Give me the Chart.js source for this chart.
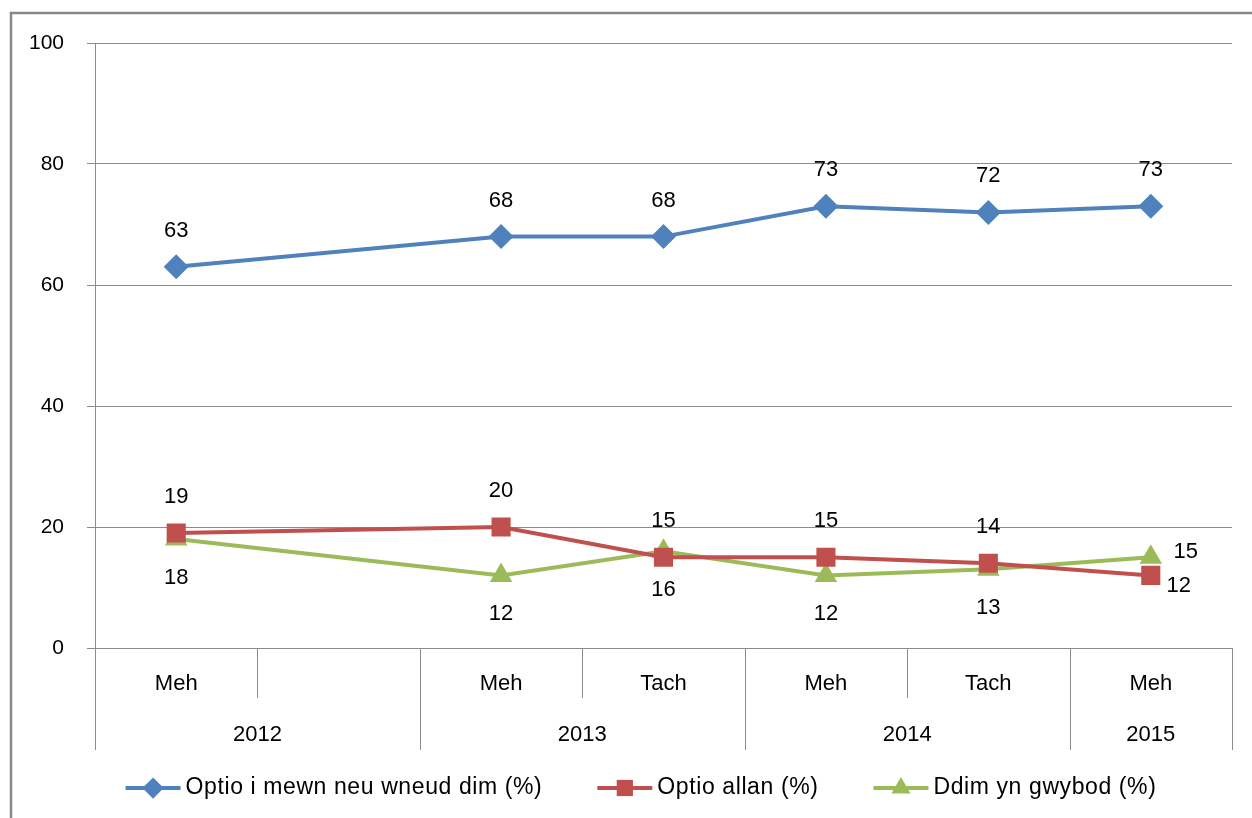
<!DOCTYPE html>
<html>
<head>
<meta charset="utf-8">
<script src="https://cdn.jsdelivr.net/npm/chart.js@4"></script>
<style>
  html, body { margin: 0; padding: 0; background: #fff; }
  #wrap { width: 1252px; height: 818px; position: relative; }
</style>
</head>
<body>
<div id="wrap"><canvas id="myChart" width="1252" height="818"></canvas></div>
<script>
// data (Tach 2012 has no survey)
const months = ['Meh', '', 'Meh', 'Tach', 'Meh', 'Tach', 'Meh'];
const years = ['2012', '2012', '2013', '2013', '2014', '2014', '2015'];
const optioMewn = [63, null, 68, 68, 73, 72, 73];
const optioAllan = [19, null, 20, 15, 15, 14, 12];
const ddimGwybod = [18, null, 12, 16, 12, 13, 15];
const yTicks = [0, 20, 40, 60, 80, 100];

const FONT = '"Liberation Sans", Arial, sans-serif';
const BLUE = '#4F81BD', RED = '#C0504D', GREEN = '#9BBB59';
const GRID = '#8c8c8c';

// frame round the chart
const framePlugin = {
  id: 'frame',
  beforeDraw(chart) {
    const ctx = chart.ctx;
    ctx.save();
    ctx.strokeStyle = '#878787';
    ctx.lineWidth = 2.5;
    ctx.beginPath();
    ctx.moveTo(11, 818);
    ctx.lineTo(11, 13);
    ctx.lineTo(1252, 13);
    ctx.stroke();
    ctx.restore();
  }
};

// two-level category axis: months, then years
const groupAxisPlugin = {
  id: 'groupAxis',
  afterDraw(chart) {
    const ctx = chart.ctx;
    const x = chart.scales.x;
    const bottom = chart.chartArea.bottom;
    const n = months.length;
    const step = x.getPixelForValue(1) - x.getPixelForValue(0);
    const edgeAt = i => x.getPixelForValue(0) + (i - 0.5) * step;
    ctx.save();
    ctx.strokeStyle = GRID;
    ctx.lineWidth = 1;
    for (let i = 0; i <= n; i++) {
      const full = i === 0 || i === n || years[i] !== years[i - 1];
      const px = Math.round(edgeAt(i)) + 0.5;
      ctx.beginPath();
      ctx.moveTo(px, bottom);
      ctx.lineTo(px, bottom + (full ? 102 : 50));
      ctx.stroke();
    }
    ctx.fillStyle = '#000';
    ctx.font = '22px ' + FONT;
    ctx.textAlign = 'center';
    ctx.textBaseline = 'middle';
    months.forEach((m, i) => {
      if (m) ctx.fillText(m, x.getPixelForValue(i), bottom + 36);
    });
    let start = 0;
    for (let i = 1; i <= n; i++) {
      if (i === n || years[i] !== years[start]) {
        const cx = (edgeAt(start) + edgeAt(i)) / 2;
        ctx.fillText(years[start], cx, bottom + 87);
        start = i;
      }
    }
    ctx.restore();
  }
};

// value labels next to the points
const valueLabelPlugin = {
  id: 'valueLabels',
  afterDatasetsDraw(chart) {
    const ctx = chart.ctx;
    ctx.save();
    ctx.fillStyle = '#000';
    ctx.font = '22px ' + FONT;
    ctx.textAlign = 'center';
    ctx.textBaseline = 'middle';
    chart.data.datasets.forEach((ds, di) => {
      const meta = chart.getDatasetMeta(di);
      const last = ds.data.length - 1;
      meta.data.forEach((pt, i) => {
        const v = ds.data[i];
        if (v === null) return;
        let off = ds.labelOffset;
        if (i === last && ds.lastLabelOffset) off = ds.lastLabelOffset;
        ctx.fillText(String(v), pt.x + off[0], pt.y + off[1]);
      });
    });
    ctx.restore();
  }
};

// legend drawn like the office one: line with marker in the middle
const legendPlugin = {
  id: 'lineLegend',
  afterDraw(chart) {
    const ctx = chart.ctx;
    const y = 788;
    const lineW = 55, gapText = 5, gapItem = 55;
    ctx.save();
    ctx.font = '23px ' + FONT;
    ctx.letterSpacing = '0.6px';
    const items = chart.data.datasets.map(ds => ({ ds, w: ctx.measureText(ds.label).width }));
    const total = items.reduce((s, it) => s + lineW + gapText + it.w, 0) + gapItem * (items.length - 1);
    let x = 641 - total / 2;
    items.forEach(it => {
      const ds = it.ds;
      ctx.strokeStyle = ds.borderColor;
      ctx.lineWidth = 4;
      ctx.beginPath();
      ctx.moveTo(x, y);
      ctx.lineTo(x + lineW, y);
      ctx.stroke();
      ctx.fillStyle = ds.pointBackgroundColor;
      Chart.helpers.drawPoint(ctx, { pointStyle: ds.pointStyle, rotation: 0, radius: ds.pointRadius * 0.85, borderWidth: 0 }, x + lineW / 2, y);
      ctx.fillStyle = '#000';
      ctx.textAlign = 'left';
      ctx.textBaseline = 'middle';
      ctx.fillText(ds.label, x + lineW + gapText, y);
      x += lineW + gapText + it.w + gapItem;
    });
    ctx.restore();
  }
};

const mkSet = (label, data, color, style, radius, labelOffset, lastLabelOffset) => ({
  label, data,
  borderColor: color,
  backgroundColor: color,
  pointBackgroundColor: color,
  pointBorderColor: color,
  pointBorderWidth: 0,
  pointStyle: style,
  pointRadius: radius,
  pointHoverRadius: radius,
  borderWidth: 4,
  tension: 0,
  spanGaps: true,
  labelOffset, lastLabelOffset
});

new Chart(document.getElementById('myChart'), {
  type: 'line',
  data: {
    labels: months,
    datasets: [
      mkSet('Optio i mewn neu wneud dim (%)', optioMewn, BLUE, 'rectRot', 12.5, [0, -36], null),
      mkSet('Optio allan (%)', optioAllan, RED, 'rect', 13.5, [0, -36], [28, 11]),
      mkSet('Ddim yn gwybod (%)', ddimGwybod, GREEN, 'triangle', 13, [0, 39], [35, -5])
    ]
  },
  options: {
    responsive: false,
    animation: false,
    events: [],
    layout: { padding: { top: 43, right: 20, left: 0, bottom: 0 } },
    plugins: { legend: { display: false }, tooltip: { enabled: false } },
    scales: {
      x: {
        type: 'category',
        offset: true,
        grid: { display: false },
        border: { display: false },
        ticks: { display: false },
        afterFit(scale) { scale.height = 170; }
      },
      y: {
        min: 0,
        max: 100,
        afterBuildTicks(scale) { scale.ticks = yTicks.map(v => ({ value: v })); },
        afterFit(scale) { scale.width = 95; },
        grid: { color: GRID, lineWidth: 1, tickLength: 8 },
        border: { color: GRID, width: 1 },
        ticks: { color: '#000', padding: 23, font: { family: FONT, size: 21 } }
      }
    }
  },
  plugins: [framePlugin, groupAxisPlugin, valueLabelPlugin, legendPlugin]
});
</script>
</body>
</html>
